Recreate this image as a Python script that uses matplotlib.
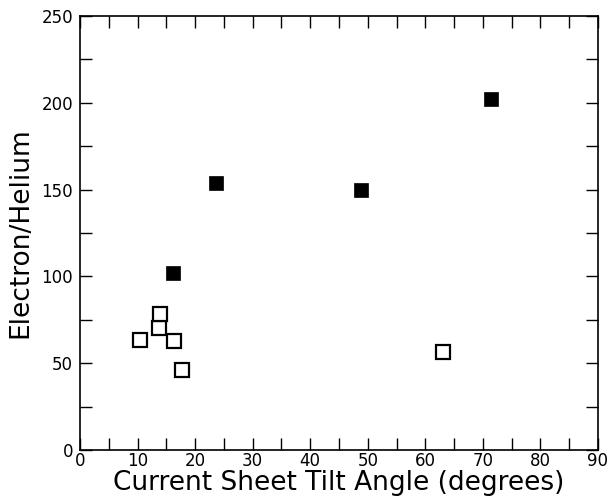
import matplotlib
matplotlib.use("Agg")
import matplotlib.pyplot as plt
from matplotlib.ticker import MultipleLocator

filled_x = [16.2, 23.7, 48.8, 71.4]
filled_y = [102.0, 153.6, 149.8, 202.0]
open_x = [10.4, 13.8, 13.9, 16.3, 17.7, 63.1]
open_y = [63.4, 70.1, 78.2, 62.8, 46.1, 56.6]

xlabel = "Current Sheet Tilt Angle (degrees)"
ylabel = "Electron/Helium"

plt.rcParams['font.family'] = ['DejaVu Sans']
fig = plt.figure(figsize=(6.1, 4.97), dpi=100)
ax = fig.add_axes([80/610, 47/497, 518/610, 434/497])

ax.plot(open_x, open_y, linestyle='none', marker='s', markersize=10.5,
        markerfacecolor='white', markeredgecolor='black', markeredgewidth=1.6, zorder=3)
ax.plot(filled_x, filled_y, linestyle='none', marker='s', markersize=10.5,
        markerfacecolor='black', markeredgecolor='black', markeredgewidth=0.5, zorder=4)

ax.set_xlim(0, 90)
ax.set_ylim(0, 250)
ax.xaxis.set_major_locator(MultipleLocator(10))
ax.xaxis.set_minor_locator(MultipleLocator(5))
ax.yaxis.set_major_locator(MultipleLocator(50))
ax.yaxis.set_minor_locator(MultipleLocator(25))
ax.tick_params(which='both', direction='in', top=True, right=True,
               length=8.5, width=1.0, labelsize=12)
ax.tick_params(axis='x', pad=1.5)
ax.tick_params(axis='y', pad=5)
for s in ax.spines.values():
    s.set_linewidth(1.2)

ax.set_xlabel(xlabel, fontsize=19, labelpad=0)
ax.set_ylabel(ylabel, fontsize=19, labelpad=6)

fig.savefig("out.png", dpi=100)
